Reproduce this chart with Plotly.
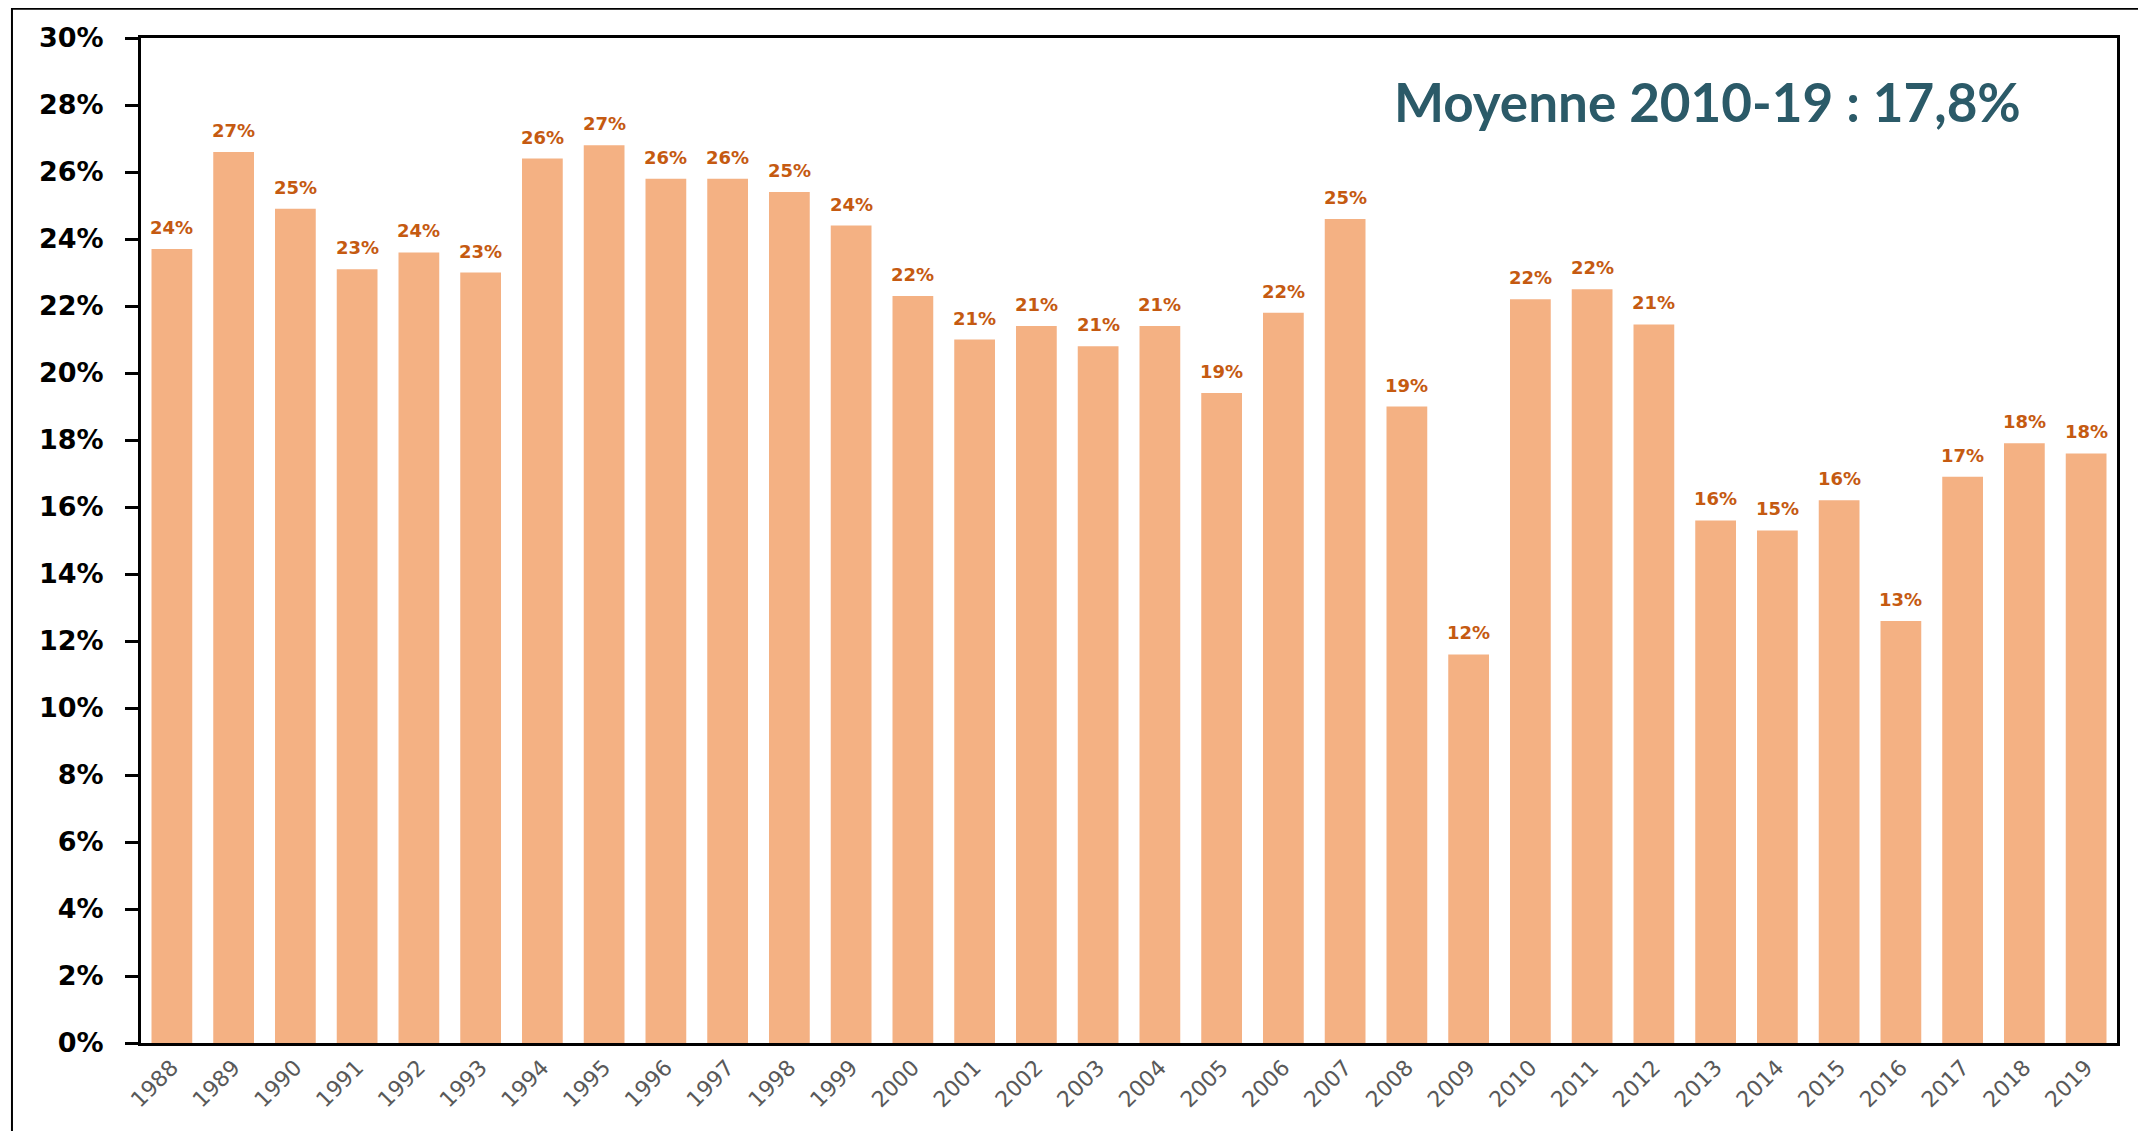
import plotly.graph_objects as go

years = list(range(1988, 2020))
rates = [0.237, 0.266, 0.249, 0.231, 0.236, 0.230, 0.264, 0.268, 0.258, 0.258,
         0.254, 0.244, 0.223, 0.210, 0.214, 0.208, 0.214, 0.194, 0.218, 0.246,
         0.190, 0.116, 0.222, 0.225, 0.2145, 0.156, 0.153, 0.162, 0.126, 0.169,
         0.179, 0.176]
y_ticks = [i / 100 for i in range(0, 31, 2)]
headline = "Moyenne 2010-19 : 17,8%"

BAR = "#F4B183"
LABEL = "#C55A11"

fig = go.Figure()

fig.add_trace(go.Bar(
    x=years,
    y=rates,
    marker=dict(color=BAR, line=dict(width=0)),
    hoverinfo="skip",
))

# value labels above each bar
for yr, v in zip(years, rates):
    fig.add_annotation(
        x=yr, y=v, text=f"{round(v * 100)}%",
        showarrow=False, yanchor="bottom", yshift=9,
        font=dict(family="DejaVu Sans", size=18, color=LABEL, weight="bold"),
    )

fig.add_annotation(
    xref="paper", yref="paper", x=0.793, y=0.937,
    xanchor="center", yanchor="middle", showarrow=False,
    text=headline,
    font=dict(family="Lato", size=53, color="#2B5A68", weight="bold"),
)

# outer frame (left and top edges visible)
fig.add_shape(type="rect", xref="paper", yref="paper",
              x0=-0.0653, x1=1.1, y0=-0.2, y1=1.029,
              line=dict(color="black", width=2), layer="below")

# page body adds 8px margin, so size/margins are trimmed to match
fig.update_layout(
    width=2138, height=1123,
    margin=dict(l=133, r=29, t=30, b=88),
    paper_bgcolor="white",
    plot_bgcolor="white",
    bargap=0.34,
    showlegend=False,
    xaxis=dict(
        range=[1987.5, 2019.5],
        tickvals=years,
        tickangle=-45,
        tickfont=dict(family="DejaVu Sans", size=22, color="#595959"),
        showline=True, linecolor="black", linewidth=3, mirror=True,
        ticks="", showgrid=False, zeroline=False,
    ),
    yaxis=dict(
        range=[0, 0.30],
        tickvals=y_ticks,
        tickformat=".0%",
        tickfont=dict(family="DejaVu Sans", size=27, color="black", weight="bold"),
        showline=True, linecolor="black", linewidth=3, mirror=True,
        ticks="outside", ticklen=13, tickwidth=3, tickcolor="black",
        ticklabelstandoff=16,
        showgrid=False, zeroline=False,
    ),
)

fig.write_html("out.html")
